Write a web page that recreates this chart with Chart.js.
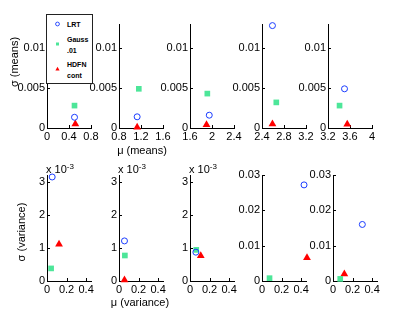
<!DOCTYPE html>
<html>
<head>
<meta charset="utf-8">
<script src="https://cdn.jsdelivr.net/npm/chart.js@4/dist/chart.umd.min.js"></script>
<style>
  body { margin: 0; background: #fff; }
  #fig { position: relative; width: 415px; height: 321px; overflow: hidden; font-family: "Liberation Sans", Arial, sans-serif; color: #000; }
  #fig canvas { position: absolute; }
  .txt { position: absolute; font-size: 11px; line-height: 1; white-space: nowrap; }
  .legend { position: absolute; left: 46px; top: 14px; width: 45px; height: 68px; border: 1px solid #222; background: #fff; z-index: 5; }
  .legend span { position: absolute; font-size: 7px; font-weight: bold; line-height: 1; transform: translateY(-50%); }
  .legend svg { position: absolute; left: 0; top: 0; }
</style>
</head>
<body>
<div id="fig"></div>
<script>
// tick values
const topXTicks = [[0, 0.4, 0.8], [0.8, 1.2, 1.6], [1.6, 2, 2.4], [2.4, 2.8, 3.2], [3.2, 3.6, 4]]
const topYTicks = [0, 0.005, 0.01]
const bottomXTicks = [0, 0.2, 0.4]
const smallYTicks = [0, 0.001, 0.002, 0.003]
const largeYTicks = [0, 0.01, 0.02, 0.03]

// [mu, sigma] of the means, one pair per subplot
const lrtMeans = [[0.50, 0.00134], [1.13, 0.0014], [1.95, 0.0016], [2.59, 0.0128], [3.50, 0.0049]]
const gaussMeans = [[0.50, 0.0028], [1.16, 0.0049], [1.915, 0.0043], [2.66, 0.0032], [3.41, 0.0028]]
const hdfnMeans = [[0.515, 0.0005], [1.13, 0.0001], [1.90, 0.0004], [2.59, 0.0005], [3.55, 0.00046]]

// [mu, sigma] of the variances
const lrtVar = [[0.053, 0.00314], [0.056, 0.00121], [0.06, 0.00087], [0.43, 0.0272], [0.30, 0.016]]
const gaussVar = [[0.042, 0.00038], [0.06, 0.00077], [0.064, 0.00094], [0.077, 0.0008], [0.074, 0.0006]]
const hdfnVar = [[0.123, 0.00111], [0.056, 0.00003], [0.11, 0.00076], [0.46, 0.0066], [0.116, 0.002]]

const topRange = [[0, 0.8], [0.8, 1.6], [1.6, 2.4], [2.4, 3.2], [3.2, 4]]
const topYMax = 0.013
const bottomXMax = 0.45
const bottomYMax = [0.0032, 0.0032, 0.0032, 0.03, 0.03]

// layout of the axes boxes
const topLefts = [47, 119, 190, 262, 328]
const bottomLefts = [47, 119, 190, 262, 333]
const axW = 44
const FONT = '"Liberation Sans", Arial, sans-serif'

Chart.defaults.font.family = FONT
Chart.defaults.font.size = 11
Chart.defaults.color = '#000'

const fig = document.getElementById('fig')
const PADL = 45, PADT = 12, PADR = 14, PADB = 20

const inwardTicks = {
  id: 'inwardTicks',
  beforeDatasetsDraw(chart) {
    const { ctx, chartArea, scales } = chart
    ctx.save()
    ctx.strokeStyle = '#000'
    ctx.lineWidth = 1
    scales.x.ticks.forEach(t => {
      const px = Math.round(scales.x.getPixelForValue(t.value)) + 0.5
      ctx.beginPath(); ctx.moveTo(px, chartArea.bottom); ctx.lineTo(px, chartArea.bottom - 3); ctx.stroke()
    })
    scales.y.ticks.forEach(t => {
      const py = Math.round(scales.y.getPixelForValue(t.value)) + 0.5
      ctx.beginPath(); ctx.moveTo(chartArea.left, py); ctx.lineTo(chartArea.left + 3, py); ctx.stroke()
    })
    ctx.restore()
  }
}

function makeAxes(left, top, height, xMin, xMax, xTicks, yMax, yTicks, yFmt, pts) {
  const c = document.createElement('canvas')
  const w = PADL + axW + PADR, h = PADT + height + PADB
  c.width = w; c.height = h
  c.style.left = (left - PADL) + 'px'
  c.style.top = (top - PADT) + 'px'
  c.style.width = w + 'px'; c.style.height = h + 'px'
  fig.appendChild(c)
  const scaleBase = {
    type: 'linear',
    grid: { display: false, drawTicks: false },
    border: { display: true, color: '#000', width: 1 },
    ticks: { color: '#000', font: { size: 11 }, padding: 2, autoSkip: false, maxRotation: 0 }
  }
  new Chart(c, {
    type: 'scatter',
    data: {
      datasets: [
        { data: [{ x: pts[0][0], y: pts[0][1] }], pointStyle: 'circle', pointRadius: 3, borderColor: '#1a3cff', backgroundColor: 'rgba(0,0,0,0)', borderWidth: 1, clip: false },
        { data: [{ x: pts[1][0], y: pts[1][1] }], pointStyle: 'rect', pointRadius: 4, borderColor: '#4de699', backgroundColor: '#4de699', borderWidth: 0, clip: false },
        { data: [{ x: pts[2][0], y: pts[2][1] }], pointStyle: 'triangle', pointRadius: 4.5, borderColor: '#ff0000', backgroundColor: '#ff0000', borderWidth: 0, clip: false }
      ]
    },
    options: {
      responsive: false,
      animation: false,
      devicePixelRatio: 1,
      layout: { padding: { left: 0, top: PADT, right: PADR, bottom: 0 } },
      plugins: { legend: { display: false }, tooltip: { enabled: false } },
      scales: {
        x: Object.assign({}, scaleBase, {
          min: xMin, max: xMax,
          afterBuildTicks: s => { s.ticks = xTicks.map(v => ({ value: v })) },
          afterFit: s => { s.height = PADB },
          ticks: Object.assign({}, scaleBase.ticks, { callback: v => String(v) })
        }),
        y: Object.assign({}, scaleBase, {
          min: 0, max: yMax,
          afterBuildTicks: s => { s.ticks = yTicks.map(v => ({ value: v })) },
          afterFit: s => { s.width = PADL },
          ticks: Object.assign({}, scaleBase.ticks, { callback: yFmt })
        })
      }
    },
    plugins: [inwardTicks]
  })
}

for (let i = 0; i < 5; i++) {
  makeAxes(topLefts[i], 24, 104, topRange[i][0], topRange[i][1], topXTicks[i], topYMax, topYTicks,
    v => String(v), [lrtMeans[i], gaussMeans[i], hdfnMeans[i]])
  const small = i < 3
  makeAxes(bottomLefts[i], 175, 106, 0, bottomXMax, bottomXTicks, bottomYMax[i], small ? smallYTicks : largeYTicks,
    small ? (v => String(Math.round(v * 1000))) : (v => String(v)), [lrtVar[i], gaussVar[i], hdfnVar[i]])
}

function addText(html, x, y, transform, size) {
  const d = document.createElement('div')
  d.className = 'txt'
  d.innerHTML = html
  d.style.left = x + 'px'
  d.style.top = y + 'px'
  if (size) d.style.fontSize = size + 'px'
  d.style.transform = transform
  fig.appendChild(d)
}

addText('σ (means)', 14, 62, 'translate(-50%,-50%) rotate(-90deg)')
addText('σ (variance)', 20.5, 232, 'translate(-50%,-50%) rotate(-90deg)')
addText('μ (means)', 142, 150, 'translate(-50%,-50%)')
addText('μ (variance)', 140, 302, 'translate(-50%,-50%)')
for (let i = 0; i < 3; i++) {
  addText('x 10<sup style="font-size:8px;vertical-align:4px">-3</sup>', bottomLefts[i] - 1, 169, 'translateY(-50%)')
}

// legend
const lg = document.createElement('div')
lg.className = 'legend'
lg.innerHTML = `
  <svg width="45" height="68">
    <circle cx="10.5" cy="9" r="1.9" fill="none" stroke="#1a3cff" stroke-width="0.9"/>
    <rect x="9" y="27.5" width="3" height="3" fill="#4de699"/>
    <polygon points="10.5,51.8 12.6,55.5 8.4,55.5" fill="#ff0000"/>
  </svg>
  <span style="left:20px;top:9px">LRT</span>
  <span style="left:20px;top:24px">Gauss</span>
  <span style="left:20px;top:35px">.01</span>
  <span style="left:20px;top:48.5px">HDFN</span>
  <span style="left:20px;top:60px">cont</span>`
fig.appendChild(lg)
</script>
</body>
</html>
